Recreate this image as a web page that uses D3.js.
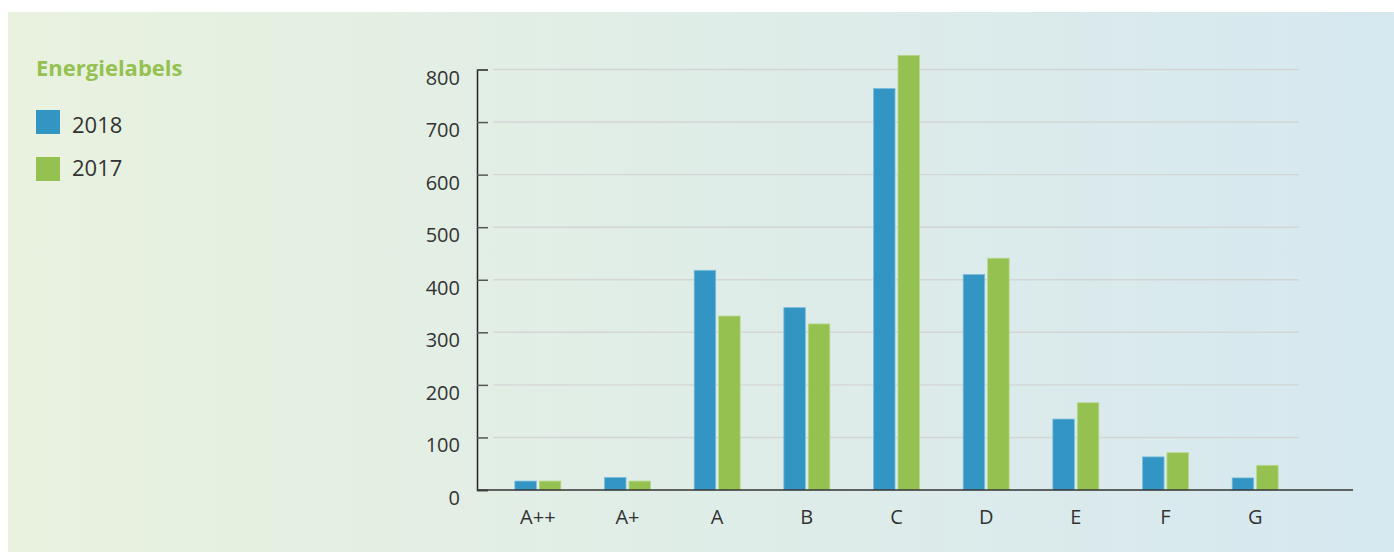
<!DOCTYPE html>
<html>
<head>
<meta charset="utf-8">
<script src="https://cdn.jsdelivr.net/npm/d3@7"></script>
<style>
  html, body { margin: 0; padding: 0; background: #ffffff; }
  svg { display: block; font-family: "Open Sans", "Noto Sans", sans-serif; }
</style>
</head>
<body>
<svg id="chart" width="1394" height="552"></svg>
<script>
const categories = ["A++", "A+", "A", "B", "C", "D", "E", "F", "G"];
const seriesNames = ["2018", "2017"];
const values2018 = [17, 24, 418, 347, 764, 410, 135, 63, 23];
const values2017 = [17, 17, 331, 316, 827, 441, 166, 71, 47];
const yTicks = [0, 100, 200, 300, 400, 500, 600, 700, 800];
const legendTitle = "Energielabels";
const colors = ["#3295c4", "#95c151"];

const svg = d3.select("#chart");

// background panel with gradient
const defs = svg.append("defs");
const grad = defs.append("linearGradient").attr("id", "bg").attr("x1", "0").attr("x2", "1").attr("y1", "0").attr("y2", "0");
grad.append("stop").attr("offset", "0").attr("stop-color", "#e9f2df");
grad.append("stop").attr("offset", "1").attr("stop-color", "#d6e8f0");
svg.append("rect").attr("x", 8).attr("y", 12).attr("width", 1386).attr("height", 540).attr("fill", "url(#bg)");

const y = d3.scaleLinear().domain([0, 800]).range([490, 69.5]);
const x = d3.scaleBand().domain(categories).range([493, 1300]).padding(0);
const groupW = 46;
const x1 = d3.scaleBand().domain(seriesNames).range([0, groupW]).paddingInner(0.12);

// gridlines
svg.append("g").selectAll("line").data(yTicks.filter(d => d > 0)).join("line")
  .attr("x1", 493).attr("x2", 1299)
  .attr("y1", d => y(d)).attr("y2", d => y(d))
  .attr("stroke", "#d4d6d6").attr("stroke-width", 1.4);

// y axis
const yAxis = svg.append("g").attr("transform", "translate(477,0)")
  .call(d3.axisRight(y).tickValues(yTicks).tickSize(11).tickFormat(""));
yAxis.select(".domain").attr("stroke", "#222").attr("stroke-width", 1.5);
yAxis.selectAll(".tick line").attr("stroke", "#555").attr("stroke-width", 1.5);

// y tick labels
svg.append("g").selectAll("text").data(yTicks).join("text")
  .attr("x", 460).attr("y", d => y(d) + 15)
  .attr("text-anchor", "end")
  .attr("font-size", 20).attr("fill", "#333")
  .text(d => d);

// bars
const data = categories.map((c, i) => ({ cat: c, vals: [values2018[i], values2017[i]] }));
const groups = svg.append("g").selectAll("g").data(data).join("g")
  .attr("transform", d => `translate(${x(d.cat) + (x.bandwidth() - groupW) / 2},0)`);
groups.selectAll("rect").data(d => d.vals.map((v, j) => ({ s: seriesNames[j], v, j }))).join("rect")
  .attr("x", d => x1(d.s))
  .attr("width", x1.bandwidth())
  .attr("y", d => y(d.v))
  .attr("height", d => y(0) - y(d.v))
  .attr("fill", d => colors[d.j])
  .attr("stroke", d => d.j === 0 ? "#7fbfdc" : "#b9d98f")
  .attr("stroke-width", 0.8);

// x baseline
svg.append("line").attr("x1", 477).attr("x2", 1353).attr("y1", y(0)).attr("y2", y(0))
  .attr("stroke", "#333").attr("stroke-width", 1.6);

// x labels
svg.append("g").selectAll("text").data(categories).join("text")
  .attr("x", d => x(d) + x.bandwidth() / 2)
  .attr("y", 524)
  .attr("text-anchor", "middle")
  .attr("font-size", 20).attr("fill", "#333")
  .text(d => d);

// legend
svg.append("text").attr("x", 36).attr("y", 76)
  .attr("font-size", 22).attr("font-weight", "bold").attr("fill", "#95c151")
  .text(legendTitle);
const legRectY = [110, 157];
const legTextY = [133, 176];
const leg = svg.append("g").selectAll("g").data(seriesNames).join("g");
leg.append("rect").attr("x", 36).attr("y", (d, i) => legRectY[i])
  .attr("width", 24).attr("height", 24).attr("fill", (d, i) => colors[i]);
leg.append("text").attr("x", 72).attr("y", (d, i) => legTextY[i])
  .attr("font-size", 22).attr("fill", "#333").text(d => d);
</script>
</body>
</html>
